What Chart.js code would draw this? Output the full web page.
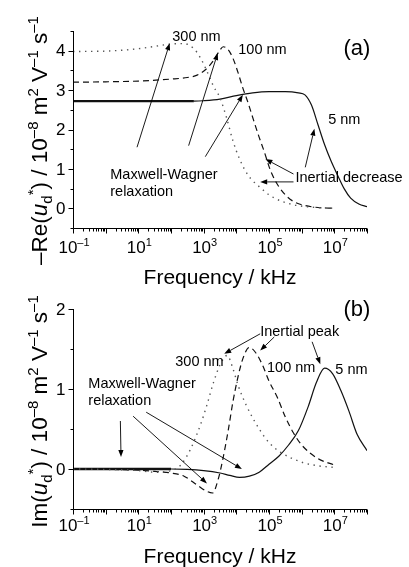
<!DOCTYPE html>
<html>
<head>
<meta charset="utf-8">
<script src="https://cdn.jsdelivr.net/npm/chart.js@4.4.1/dist/chart.umd.min.js"></script>
<style>
  html, body { margin: 0; padding: 0; background: #fff; }
  #wrap { position: relative; width: 409px; height: 567px; }
  .panel { position: absolute; left: 0; width: 409px; }
</style>
</head>
<body>
<div id="wrap">
  <div class="panel" style="top:0;height:292px"><canvas id="chartA"></canvas></div>
  <div class="panel" style="top:283px;height:284px"><canvas id="chartB"></canvas></div>
</div>
<script>
const FONT = "'Liberation Sans', Arial, sans-serif";

// ---- panel (a): -Re(ud*), x given as log10(frequency / kHz)
const reA5nm_logf   = [-1, 0, 1, 2, 2.7, 3, 3.5, 4, 4.5, 5, 5.5, 5.9, 6.1, 6.3, 6.5, 6.7, 6.9, 7.1, 7.3, 7.5, 7.75, 8];
const reA5nm        = [2.72, 2.72, 2.72, 2.72, 2.72, 2.73, 2.77, 2.86, 2.93, 2.96, 2.96, 2.93, 2.88, 2.62, 2.12, 1.62, 1.2, 0.84, 0.5, 0.26, 0.11, 0.04];
const reA100nm_logf = [-1, 0, 1, 2, 2.5, 2.8, 3.1, 3.3, 3.45, 3.6, 3.75, 3.9, 4.05, 4.2, 4.35, 4.53, 4.7, 4.85, 5.05, 5.3, 5.55, 5.8, 6.1, 6.5, 7];
const reA100nm      = [3.2, 3.21, 3.23, 3.28, 3.32, 3.38, 3.55, 3.75, 3.95, 4.1, 4.03, 3.8, 3.45, 3.05, 2.7, 2.23, 1.8, 1.45, 0.95, 0.55, 0.3, 0.15, 0.07, 0.02, 0];
const reA300nm_logf = [-1, 0, 1, 1.5, 2, 2.4, 2.7, 2.9, 3.1, 3.3, 3.5, 3.7, 3.9, 4.1, 4.35, 4.7, 5.1, 5.7, 6.3, 7];
const reA300nm      = [3.98, 3.99, 4.05, 4.11, 4.17, 4.18, 4.05, 3.82, 3.48, 3.1, 2.8, 2.3, 1.7, 1.25, 0.85, 0.55, 0.29, 0.1, 0.03, 0];

// ---- panel (b): Im(ud*)
const imB5nm_logf   = [-1, 0, 1, 2, 2.5, 3, 3.5, 3.8, 4.1, 4.4, 4.7, 5, 5.3, 5.6, 5.9, 6.2, 6.45, 6.7, 6.95, 7.2, 7.45, 7.7, 8];
const imB5nm        = [0, 0, 0, 0, -0.005, -0.02, -0.05, -0.08, -0.105, -0.09, -0.04, 0.06, 0.16, 0.3, 0.48, 0.78, 1.08, 1.26, 1.19, 0.98, 0.72, 0.43, 0.23];
const imB100nm_logf = [-1, 0, 1, 1.5, 2, 2.4, 2.8, 3.1, 3.27, 3.45, 3.6, 3.75, 3.9, 4.05, 4.2, 4.4, 4.6, 4.8, 5, 5.25, 5.5, 5.75, 6, 6.5, 7];
const imB100nm      = [0, -0.005, -0.015, -0.03, -0.05, -0.09, -0.2, -0.28, -0.3, -0.12, 0.15, 0.48, 0.85, 1.15, 1.38, 1.52, 1.45, 1.3, 1.1, 0.9, 0.65, 0.45, 0.3, 0.13, 0.05];
const imB300nm_logf = [-1, 0, 1, 1.5, 2, 2.3, 2.6, 2.9, 3.1, 3.3, 3.5, 3.72, 3.9, 4.05, 4.3, 4.7, 5, 5.35, 6, 6.5, 7];
const imB300nm      = [0, -0.005, -0.02, -0.04, -0.02, 0.05, 0.25, 0.55, 0.8, 1.08, 1.3, 1.42, 1.25, 1.05, 0.8, 0.5, 0.33, 0.21, 0.085, 0.04, 0.02];

// ---- axes
const xLabelExps = [-1, 1, 3, 5, 7];
const yTicksA = [0, 1, 2, 3, 4];
const yTicksB = [0, 1, 2];

// ---- annotations, in (log10 f, value)
const notesA = [
  { t: '300 nm', at: [2.04, 4.34] },
  { t: '100 nm', at: [4.06, 4.02] },
  { t: '5 nm', at: [6.81, 2.25] },
  { t: 'Maxwell-Wagner', at: [0.14, 0.84] },
  { t: 'relaxation', at: [0.14, 0.41] },
  { t: 'Inertial decrease', at: [5.81, 0.78] }
];
const arrowsA = [
  [0.96, 1.55, 1.96, 4.19],
  [2.54, 1.59, 3.43, 3.94],
  [3.05, 1.31, 4.2, 2.88],
  [5.75, 0.87, 4.89, 1.25],
  [5.75, 0.67, 4.73, 0.67],
  [6.11, 1.04, 6.39, 2.02]
];
const notesB = [
  { t: 'Inertial peak', at: [4.73, 1.71] },
  { t: '300 nm', at: [2.13, 1.34] },
  { t: '100 nm', at: [4.94, 1.26] },
  { t: '5 nm', at: [7.03, 1.24] },
  { t: 'Maxwell-Wagner', at: [-0.53, 1.06] },
  { t: 'relaxation', at: [-0.53, 0.85] }
];
const arrowsB = [
  [4.73, 1.69, 3.63, 1.44],
  [5.16, 1.65, 4.73, 1.48],
  [6.32, 1.59, 6.57, 1.31],
  [0.45, 0.6, 0.47, 0.15],
  [0.84, 0.66, 3.1, -0.18],
  [1.24, 0.71, 4.17, 0.0]
];

function pts(logf, vals) {
  return logf.map((e, i) => ({ x: Math.pow(10, e), y: vals[i] }));
}

function fontOf(p) {
  return (p.it ? 'italic ' : '') + p.s + 'px ' + FONT;
}

function drawRich(ctx, parts, x, y, align) {
  let w = 0;
  for (const p of parts) { ctx.font = fontOf(p); w += ctx.measureText(p.t).width; }
  let cx = align === 'center' ? x - w / 2 : (align === 'right' ? x - w : x);
  ctx.textAlign = 'left';
  ctx.textBaseline = 'alphabetic';
  for (const p of parts) {
    ctx.font = fontOf(p);
    ctx.fillText(p.t, cx, y + (p.dy || 0));
    cx += ctx.measureText(p.t).width;
  }
}

function arrow(ctx, x0, y0, x1, y1) {
  const ang = Math.atan2(y1 - y0, x1 - x0), L = 7, W = 2.6;
  const bx = x1 - L * Math.cos(ang), by = y1 - L * Math.sin(ang);
  ctx.beginPath(); ctx.moveTo(x0, y0); ctx.lineTo(bx, by); ctx.stroke();
  ctx.beginPath();
  ctx.moveTo(x1, y1);
  ctx.lineTo(bx + W * Math.sin(ang), by - W * Math.cos(ang));
  ctx.lineTo(bx - W * Math.sin(ang), by + W * Math.cos(ang));
  ctx.closePath(); ctx.fill();
}

function yTitleParts(head) {
  const M = 22.5, S = 15;
  return [
    { t: head, s: M },
    { t: 'u', s: M, it: true },
    { t: 'd', s: S, dy: 5 },
    { t: '*', s: S, dy: -9 },
    { t: ') / 10', s: M },
    { t: '\u20138', s: S, dy: -9 },
    { t: ' m', s: M },
    { t: '2', s: S, dy: -9 },
    { t: ' V', s: M },
    { t: '\u20131', s: S, dy: -9 },
    { t: ' s', s: M },
    { t: '\u20131', s: S, dy: -9 }
  ];
}

function makeFrame(cfg) {
  return {
    id: 'frame',
    afterDraw(chart) {
      const { ctx, chartArea: a, scales: { x, y } } = chart;
      const L = Math.round(a.left) + 0.5, B = Math.round(a.bottom) + 0.5;
      ctx.save();
      ctx.strokeStyle = '#000';
      ctx.fillStyle = '#000';
      ctx.lineWidth = 1;
      // axis lines
      ctx.beginPath();
      ctx.moveTo(L, Math.round(a.top));
      ctx.lineTo(L, B);
      ctx.lineTo(Math.round(a.right), B);
      ctx.stroke();
      // x ticks
      ctx.beginPath();
      for (let e = -1; e <= 8; e++) {
        for (let m = 1; m <= 9; m++) {
          const v = m * Math.pow(10, e);
          if (v > 1.0001e8) break;
          const px = Math.round(x.getPixelForValue(v)) + 0.5;
          ctx.moveTo(px, B);
          ctx.lineTo(px, B + (m === 1 ? 5 : 3));
        }
      }
      // y ticks
      for (let v = y.min; v <= y.max + 1e-9; v += 0.5) {
        const py = Math.round(y.getPixelForValue(v)) + 0.5;
        ctx.moveTo(L, py);
        ctx.lineTo(L - (Number.isInteger(v) ? 5 : 3), py);
      }
      ctx.stroke();
      // x labels
      for (const e of xLabelExps) {
        drawRich(ctx, [
          { t: '10', s: 17 },
          { t: e < 0 ? '\u2013' + (-e) : String(e), s: 11, dy: -7 }
        ], x.getPixelForValue(Math.pow(10, e)) + 1, B + cfg.xLabelDy, 'center');
      }
      // y labels
      ctx.font = '17px ' + FONT;
      ctx.textAlign = 'right';
      ctx.textBaseline = 'middle';
      for (const v of cfg.yTicks) ctx.fillText(String(v), L - 8, y.getPixelForValue(v) + 1);
      // axis titles
      ctx.font = '21px ' + FONT;
      ctx.textAlign = 'center';
      ctx.textBaseline = 'alphabetic';
      ctx.fillText('Frequency / kHz', (a.left + a.right) / 2, B + cfg.xTitleDy);
      ctx.save();
      ctx.translate(46.5, cfg.yTitleMid);
      ctx.rotate(-Math.PI / 2);
      drawRich(ctx, yTitleParts(cfg.yHead), 0, 0, 'center');
      ctx.restore();
      // panel letter
      ctx.font = '22px ' + FONT;
      ctx.textAlign = 'center';
      ctx.textBaseline = 'middle';
      ctx.fillText(cfg.letter[0], x.getPixelForValue(Math.pow(10, cfg.letter[1])), y.getPixelForValue(cfg.letter[2]));
      // notes and arrows
      ctx.font = '14.5px ' + FONT;
      ctx.textAlign = 'left';
      for (const n of cfg.notes) {
        ctx.fillText(n.t, x.getPixelForValue(Math.pow(10, n.at[0])), y.getPixelForValue(n.at[1]));
      }
      ctx.lineWidth = 0.9;
      for (const [e0, v0, e1, v1] of cfg.arrows) {
        arrow(ctx,
          x.getPixelForValue(Math.pow(10, e0)), y.getPixelForValue(v0),
          x.getPixelForValue(Math.pow(10, e1)), y.getPixelForValue(v1));
      }
      ctx.restore();
    }
  };
}

function lineSet(data, kind, thickUntil) {
  const ds = {
    data,
    borderColor: kind === 'dot' ? '#555' : '#111',
    borderWidth: kind === 'dot' ? 1.4 : 1.2,
    borderDash: kind === 'dash' ? [6, 4] : (kind === 'dot' ? [1.4, 4.6] : []),
    pointRadius: 0,
    cubicInterpolationMode: 'monotone',
    fill: false
  };
  if (thickUntil) {
    ds.segment = { borderWidth: c => (c.p1.parsed.x <= thickUntil ? 2.4 : 1.2) };
  }
  return ds;
}

function makeChart(id, datasets, yMin, yMax, pad, cfg) {
  return new Chart(document.getElementById(id), {
    type: 'line',
    data: { datasets },
    options: {
      responsive: true,
      maintainAspectRatio: false,
      animation: false,
      events: [],
      layout: { padding: pad },
      plugins: { legend: { display: false }, tooltip: { enabled: false } },
      scales: {
        x: { type: 'logarithmic', min: 0.1, max: 1e8, display: false },
        y: { type: 'linear', min: yMin, max: yMax, display: false }
      }
    },
    plugins: [makeFrame(cfg)]
  });
}

makeChart('chartA', [
  lineSet(pts(reA300nm_logf, reA300nm), 'dot'),
  lineSet(pts(reA100nm_logf, reA100nm), 'dash'),
  lineSet(pts(reA5nm_logf, reA5nm), 'solid', Math.pow(10, 2.7))
], -0.5, 4.5, { left: 73, right: 42, top: 31, bottom: 64 }, {
  yTicks: yTicksA, yHead: '\u2013Re(', yTitleMid: 140.5,
  xLabelDy: 24, xTitleDy: 55,
  letter: ['(a)', 7.69, 4.05],
  notes: notesA, arrows: arrowsA
});

makeChart('chartB', [
  lineSet(pts(imB300nm_logf, imB300nm), 'dot'),
  lineSet(pts(imB100nm_logf, imB100nm), 'dash'),
  lineSet(pts(imB5nm_logf, imB5nm), 'solid', Math.pow(10, 2.3))
], -0.5, 2, { left: 73, right: 42, top: 26, bottom: 58 }, {
  yTicks: yTicksB, yHead: 'Im(', yTitleMid: 128.5,
  xLabelDy: 21, xTitleDy: 53,
  letter: ['(b)', 7.69, 1.99],
  notes: notesB, arrows: arrowsB
});
</script>
</body>
</html>
